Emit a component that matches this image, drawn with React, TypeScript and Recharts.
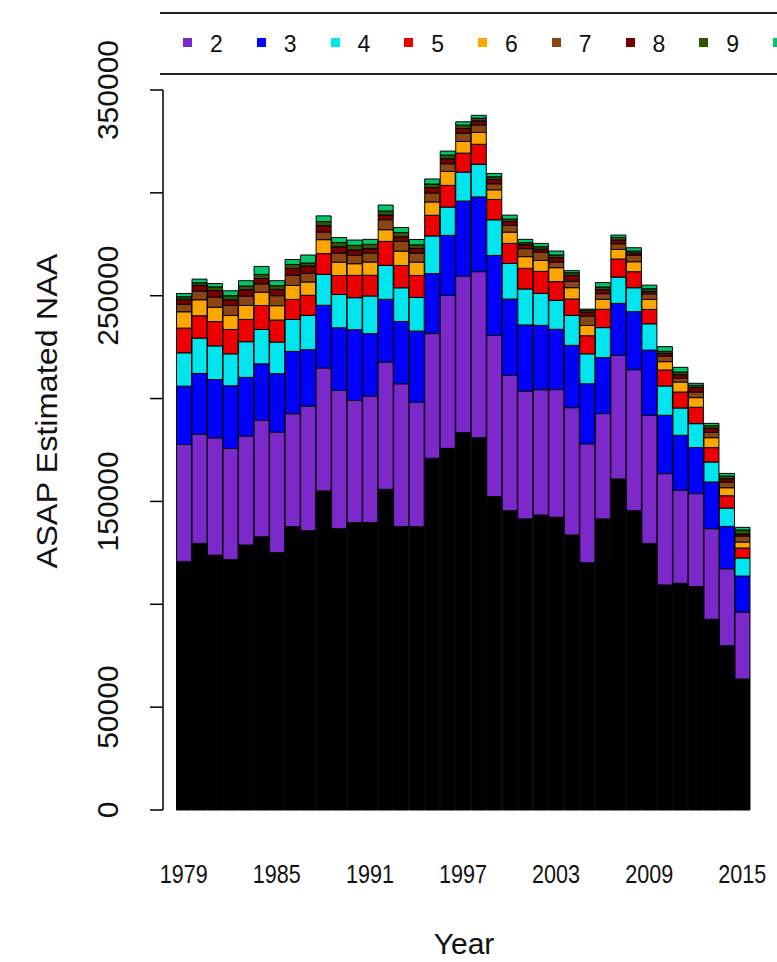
import React from 'react';
import { BarChart, Bar, XAxis, YAxis, Legend } from 'recharts';

const FONT = '"Liberation Sans", Arial, Helvetica, sans-serif';

const years = [
  1979, 1980, 1981, 1982, 1983, 1984, 1985, 1986, 1987, 1988,
  1989, 1990, 1991, 1992, 1993, 1994, 1995, 1996, 1997, 1998,
  1999, 2000, 2001, 2002, 2003, 2004, 2005, 2006, 2007, 2008,
  2009, 2010, 2011, 2012, 2013, 2014, 2015,
];

// numbers at age
const naaAge1 = [
  120700, 129600, 123900, 121800, 128800, 132800, 125100, 137700, 135800, 155100,
  136700, 139700, 139700, 155900, 137700, 137700, 171000, 175800, 183400, 181000,
  152300, 145500, 141500, 143400, 142300, 133700, 120200, 141500, 160900, 145500,
  129600, 109400, 110200, 108600, 92700, 79870, 63680,
];
const naaAge2 = [
  57000, 53100, 57000, 53950, 53000, 56700, 58640, 54920, 60590, 59780,
  67230, 59450, 61560, 61880, 69500, 60590, 60590, 74360, 76140, 80690,
  78400, 65770, 62200, 60910, 62050, 61880, 57830, 51190, 60100, 68530,
  62210, 54110, 45360, 45200, 44060, 37420, 32560,
];
const naaAge3 = [
  28350, 29500, 28350, 30460, 28500, 27380, 28350, 30300, 27380, 30460,
  30460, 34340, 30290, 30460, 30290, 34510, 29160, 29160, 36450, 36310,
  38880, 37100, 32080, 31270, 29320, 30290, 29160, 27220, 25270, 28190,
  31750, 28350, 26570, 22360, 22680, 20570, 17500,
];
const naaAge4 = [
  16200, 17200, 16360, 15550, 17330, 16690, 15390, 15550, 16690, 15070,
  16200, 15550, 18310, 16520, 16360, 16360, 18310, 13770, 14090, 15900,
  17330, 17330, 17500, 15550, 14090, 14580, 14580, 14580, 12800, 11660,
  12800, 14260, 13280, 11660, 9720, 8910, 8750,
];
const naaAge5 = [
  12000, 10850, 11830, 11830, 10850, 11660, 10690, 9720, 9720, 10040,
  9230, 10850, 10040, 11660, 10850, 10690, 10040, 10530, 9230, 9700,
  9880, 9720, 10040, 10690, 9070, 7940, 8750, 8910, 8750, 7780,
  6970, 7780, 7780, 7940, 6970, 5990, 4860,
];
const naaAge6 = [
  7940, 7780, 6970, 6800, 6800, 6480, 6970, 6800, 6480, 6800,
  6480, 5670, 6480, 5670, 6970, 6480, 6480, 6800, 5670, 5800,
  4700, 5510, 5670, 5350, 6800, 5510, 5020, 4860, 4700, 4860,
  4860, 4050, 4860, 4700, 4860, 3890, 2920,
];
const naaAge7 = [
  3700, 4200, 4860, 4860, 4540, 4050, 4860, 4860, 4210, 3730,
  4370, 4050, 4370, 4860, 4700, 4370, 4370, 3730, 4050, 3600,
  2920, 3240, 3890, 4050, 2750, 3080, 4540, 2750, 2750, 3080,
  2750, 2750, 1940, 2750, 2590, 2750, 2920,
];
const naaAge8 = [
  2270, 2750, 3240, 2750, 3080, 2590, 3080, 3400, 3560, 3080,
  3080, 2590, 2100, 2270, 2270, 2270, 2590, 2430, 2270, 2000,
  2100, 1940, 1900, 1400, 2100, 2920, 1940, 1940, 1780, 1130,
  1130, 1300, 1620, 2270, 1940, 1620, 970,
];
const naaAge9 = [
  1300, 1300, 1780, 2000, 1800, 2000, 1800, 1940, 1460, 2000,
  2100, 2270, 2100, 1940, 2100, 1780, 1780, 1780, 1620, 1300,
  1300, 1130, 1000, 1190, 1300, 1300, 970, 1300, 1300, 970,
  1300, 970, 1300, 970, 1300, 1300, 1940,
];
const naaAge10 = [
  1620, 1780, 1620, 2400, 2590, 3890, 2430, 2430, 3890, 2750,
  2430, 2590, 2430, 2920, 2430, 2590, 2430, 1940, 1620, 1400,
  1620, 1940, 1620, 1620, 1940, 970, 490, 2110, 1130, 1620,
  1780, 2270, 2270, 970, 1130, 1300, 1300,
];

const ageNames = ['1', '2', '3', '4', '5', '6', '7', '8', '9', '10+'];
const ageColors = [
  '#000000', '#7D28CB', '#0000FF', '#00E5EE', '#EE0000',
  '#FFA500', '#8B4513', '#760000', '#2F5600', '#00C86A',
];
const ageValues = [
  naaAge1, naaAge2, naaAge3, naaAge4, naaAge5,
  naaAge6, naaAge7, naaAge8, naaAge9, naaAge10,
];

const yTicks = [0, 50000, 100000, 150000, 200000, 250000, 300000, 350000];
// R drops the labels that would overlap
const yTickLabels = ['0', '50000', '', '150000', '', '250000', '', '350000'];
const xTickLabels = ['1979', '1985', '1991', '1997', '2003', '2009', '2015'];

const series = ageNames.map((name, k) => ({
  key: `age${k + 1}`,
  name,
  color: ageColors[k],
}));

const data = years.map((year, i) => {
  const row: Record<string, number | string> = { year: String(year) };
  series.forEach((s, k) => {
    row[s.key] = ageValues[k][i];
  });
  return row;
});

const XTick = ({ x, y, payload }: any) => {
  if (!xTickLabels.includes(payload.value)) return null;
  return (
    <text
      x={x}
      y={y + 73}
      textAnchor="middle"
      fontFamily={FONT}
      fontSize={25}
      textLength={48}
      lengthAdjust="spacingAndGlyphs"
      fill="#111"
    >
      {payload.value}
    </text>
  );
};

const YTick = ({ y, payload }: any) => {
  const label = yTickLabels[yTicks.indexOf(payload.value)];
  if (!label) return null;
  const bx = 118;
  return (
    <text
      x={bx}
      y={y}
      transform={`rotate(-90, ${bx}, ${y})`}
      textAnchor="middle"
      fontFamily={FONT}
      fontSize={30}
      fill="#111"
    >
      {label}
    </text>
  );
};

const YTitle = () => (
  <text
    x={57}
    y={411}
    transform="rotate(-90, 57, 411)"
    textAnchor="middle"
    fontFamily={FONT}
    fontSize={30}
    textLength={315}
    lengthAdjust="spacingAndGlyphs"
    fill="#111"
  >
    ASAP Estimated NAA
  </text>
);

const XTitle = () => (
  <text x={464} y={954} textAnchor="middle" fontFamily={FONT} fontSize={30} fill="#111">
    Year
  </text>
);

const LegendBox = () => (
  <div
    style={{
      position: 'relative',
      width: 777,
      height: 80,
      overflow: 'hidden',
      fontFamily: FONT,
      color: '#111',
    }}
  >
    <div style={{ position: 'absolute', left: 160, right: 0, top: 12, borderTop: '2px solid #222' }} />
    <div style={{ position: 'absolute', left: 160, right: 0, top: 73, borderTop: '2px solid #222' }} />
    {series.slice(1).map((s, i) => (
      <React.Fragment key={s.key}>
        <div
          style={{
            position: 'absolute',
            left: 183 + i * 73.75,
            top: 38,
            width: 9,
            height: 9,
            background: s.color,
          }}
        />
        <div
          style={{
            position: 'absolute',
            left: 210 + i * 73.75,
            top: 31,
            fontSize: 23,
            lineHeight: '26px',
          }}
        >
          {s.name}
        </div>
      </React.Fragment>
    ))}
  </div>
);

export default function App() {
  return (
    <div style={{ position: 'absolute', left: 0, top: 0, width: 777, height: 962, background: '#fff' }}>
      <BarChart
        width={777}
        height={962}
        data={data}
        margin={{ top: 90, right: 0, bottom: 0, left: 0 }}
        barCategoryGap={0.5}
      >
        <XAxis
          dataKey="year"
          interval={0}
          height={152}
          axisLine={false}
          tickLine={false}
          tickSize={0}
          tickMargin={0}
          padding={{ left: 13, right: 27 }}
          tick={<XTick />}
          label={<XTitle />}
        />
        <YAxis
          width={163}
          domain={[0, 350000]}
          ticks={yTicks}
          interval={0}
          tickSize={13}
          tickMargin={2}
          axisLine={{ stroke: '#000', strokeWidth: 1.5 }}
          tickLine={{ stroke: '#000', strokeWidth: 1.5 }}
          tick={<YTick />}
          label={<YTitle />}
        />
        <Legend
          verticalAlign="middle"
          align="center"
          layout="horizontal"
          content={<LegendBox />}
          wrapperStyle={{ top: 0, left: 0, width: 777, height: 80 }}
        />
        {series.map((s) => (
          <Bar
            key={s.key}
            dataKey={s.key}
            name={s.name}
            stackId="naa"
            fill={s.color}
            stroke="#000"
            strokeWidth={1}
            isAnimationActive={false}
          />
        ))}
      </BarChart>
    </div>
  );
}
